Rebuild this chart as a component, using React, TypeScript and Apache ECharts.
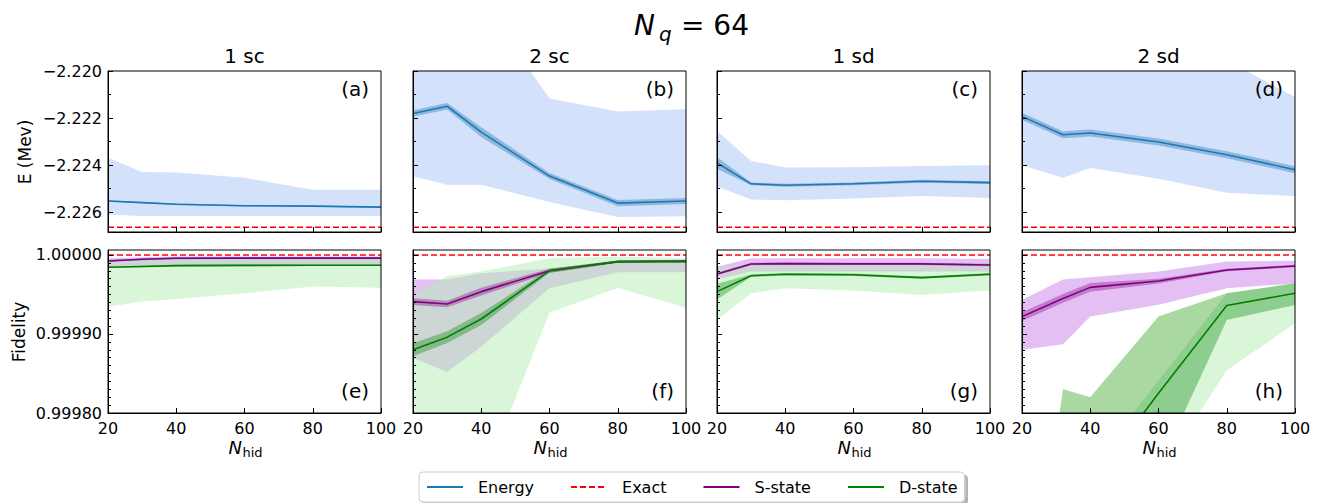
import React, { useEffect, useRef } from 'react';
import * as echarts from 'echarts';

// ---------------- DATA ----------------
const NHID_A = [20, 30, 40, 60, 80, 100];
const NHID_B = [20, 30, 40, 60, 80, 100];
const NHID_C = [20, 30, 40, 60, 80, 100];
const NHID_D = [20, 32, 40, 60, 80, 100];

const COLUMN_TITLES = ['1 sc', '2 sc', '1 sd', '2 sd'];
const PANEL_LETTERS = ['(a)', '(b)', '(c)', '(d)', '(e)', '(f)', '(g)', '(h)'];
const LEGEND_NAMES = ['Energy', 'Exact', 'S-state', 'D-state'];
const X_TICKS = [20, 40, 60, 80, 100];

const E_EXACT = -2.22665;
const F_EXACT = 1.0;
const E_RANGE = [-2.22685, -2.22];
const F_RANGE = [0.9998, 1.0000063];
const E_MAJOR = [-2.226, -2.224, -2.222, -2.22];
const E_MINOR = [-2.226, -2.225, -2.224, -2.223, -2.222, -2.221, -2.22];
const F_MAJOR = [0.9998, 0.9999, 1.0];
const F_MINOR = [
  0.9998, 0.99981, 0.99982, 0.99983, 0.99984, 0.99985, 0.99986, 0.99987, 0.99988, 0.99989,
  0.9999, 0.99991, 0.99992, 0.99993, 0.99994, 0.99995, 0.99996, 0.99997, 0.99998, 0.99999, 1.0,
];

// Energy (a) 1 sc
const EA_MEAN = [-2.22553, -2.2256, -2.22567, -2.22573, -2.22575, -2.22579];
const EA_LO = [-2.22556, -2.22563, -2.2257, -2.22576, -2.22578, -2.22582];
const EA_HI = [-2.2255, -2.22557, -2.22564, -2.2257, -2.22572, -2.22576];
const EA_MIN = [-2.22611, -2.22617, -2.22617, -2.22617, -2.22617, -2.22617];
const EA_MAX = [-2.22369, -2.2243, -2.22432, -2.22454, -2.22505, -2.22505];
// Energy (b) 2 sc
const EB_MEAN = [-2.22181, -2.2215, -2.2226, -2.22447, -2.22562, -2.22553];
const EB_LO = [-2.22195, -2.22164, -2.22281, -2.2246, -2.22575, -2.22566];
const EB_HI = [-2.22167, -2.22136, -2.22239, -2.22434, -2.22549, -2.2254];
const EB_MIN = [-2.22448, -2.22484, -2.22484, -2.22557, -2.22621, -2.22618];
const EB_MAX = [-2.2165, -2.2163, -2.217, -2.22117, -2.22172, -2.22163];
// Energy (c) 1 sd
const EC_MEAN = [-2.22391, -2.2248, -2.22486, -2.2248, -2.22469, -2.22475];
const EC_LO = [-2.22416, -2.22486, -2.22492, -2.22486, -2.22475, -2.22481];
const EC_HI = [-2.22366, -2.22474, -2.2248, -2.22474, -2.22463, -2.22469];
const EC_MIN = [-2.22491, -2.22547, -2.2255, -2.22543, -2.22532, -2.2254];
const EC_MAX = [-2.22255, -2.22383, -2.22411, -2.2241, -2.22404, -2.22401];
// Energy (d) 2 sd
const ED_MEAN = [-2.22193, -2.22271, -2.22264, -2.22302, -2.22356, -2.2242];
const ED_LO = [-2.22208, -2.22286, -2.22279, -2.22317, -2.22371, -2.22435];
const ED_HI = [-2.22178, -2.22256, -2.22249, -2.22287, -2.22341, -2.22405];
const ED_MIN = [-2.22401, -2.22454, -2.22413, -2.22458, -2.22518, -2.22532];
const ED_MAX = [-2.218, -2.218, -2.2182, -2.2188, -2.21955, -2.22111];

// Fidelity (e) 1 sc
const SE_MEAN = [0.9999924, 0.9999945, 0.9999958, 0.999996, 0.999996, 0.999996];
const SE_LO = [0.9999912, 0.9999933, 0.9999946, 0.9999948, 0.9999948, 0.9999948];
const SE_HI = [0.9999936, 0.9999957, 0.999997, 0.9999972, 0.9999972, 0.9999972];
const SE_MIN = [0.999985, 0.999986, 0.999987, 0.999987, 0.999988, 0.999988];
const SE_MAX = [0.999996, 0.999997, 0.999998, 0.999998, 0.999998, 0.999998];
const DE_MEAN = [0.9999844, 0.9999855, 0.9999865, 0.9999868, 0.999987, 0.999987];
const DE_LO = [0.9999834, 0.9999845, 0.9999855, 0.9999858, 0.999986, 0.999986];
const DE_HI = [0.9999854, 0.9999865, 0.9999875, 0.9999878, 0.999988, 0.999988];
const DE_MIN = [0.9999346, 0.999941, 0.9999443, 0.9999515, 0.99996, 0.9999586];
const DE_MAX = [0.999994, 0.999995, 0.999996, 0.999996, 0.999996, 0.999996];
// Fidelity (f) 2 sc
const SF_MEAN = [0.999941, 0.999938, 0.9999536, 0.99998, 0.9999916, 0.9999924];
const SF_LO = [0.9999368, 0.9999338, 0.9999486, 0.9999775, 0.9999901, 0.9999909];
const SF_HI = [0.9999452, 0.9999422, 0.9999586, 0.9999825, 0.9999931, 0.9999939];
const SF_MIN = [0.99987, 0.999852, 0.999884, 0.999958, 0.999978, 0.999978];
const SF_MAX = [0.999969, 0.999969, 0.999977, 0.999983, 0.999991, 0.999991];
const DF_MEAN = [0.99988, 0.999896, 0.999919, 0.99998, 0.9999916, 0.9999916];
const DF_LO = [0.9998718, 0.9998885, 0.9999115, 0.9999775, 0.9999901, 0.9999901];
const DF_HI = [0.9998882, 0.9999035, 0.9999265, 0.9999825, 0.9999931, 0.9999931];
const DF_MIN = [0.9996, 0.99965, 0.99971, 0.999927, 0.9999586, 0.9999333];
const DF_MAX = [0.99995, 0.999973, 0.999979, 0.999996, 0.999998, 0.999996];
// Fidelity (g) 1 sd
const SG_MEAN = [0.999976, 0.9999886, 0.999989, 0.9999888, 0.9999888, 0.9999873];
const SG_LO = [0.9999745, 0.9999871, 0.9999875, 0.9999873, 0.9999873, 0.9999858];
const SG_HI = [0.9999775, 0.9999901, 0.9999905, 0.9999903, 0.9999903, 0.9999888];
const SG_MIN = [0.999969, 0.999979, 0.999979, 0.999979, 0.999979, 0.999979];
const SG_MAX = [0.999985, 0.9999958, 0.9999958, 0.9999958, 0.9999958, 0.999995];
const DG_MEAN = [0.9999536, 0.9999738, 0.9999756, 0.999975, 0.9999713, 0.9999756];
const DG_LO = [0.9999436, 0.9999723, 0.9999741, 0.9999735, 0.9999698, 0.9999741];
const DG_HI = [0.9999636, 0.9999753, 0.9999771, 0.9999765, 0.9999728, 0.9999771];
const DG_MIN = [0.9999177, 0.9999515, 0.9999578, 0.999955, 0.9999494, 0.999955];
const DG_MAX = [0.999983, 0.99999, 0.99999, 0.99999, 0.99999, 0.99999];
// Fidelity (h) 2 sd
const SH_MEAN = [0.999922, 0.999945, 0.999959, 0.999967, 0.999981, 0.999986];
const SH_LO = [0.9999165, 0.9999395, 0.9999535, 0.999964, 0.9999795, 0.9999845];
const SH_HI = [0.9999275, 0.9999505, 0.9999645, 0.99997, 0.9999825, 0.9999875];
const SH_MIN = [0.99988, 0.999887, 0.999922, 0.999937, 0.999958, 0.999964];
const SH_MAX = [0.999943, 0.999969, 0.9999718, 0.999979, 0.9999916, 0.9999928];
const DH_MEAN = [0.9993, 0.9994, 0.99971, 0.999825, 0.999936, 0.9999515];
const DH_LO = [0.9991, 0.9992, 0.9995, 0.99973, 0.9999177, 0.9999367];
const DH_HI = [0.99945, 0.99955, 0.99973, 0.999841, 0.9999515, 0.9999642];
const DH_MID = [0.99946, 0.99983, 0.99982, 0.999922, 0.9999515, 0.9999642];
const DH_MIN = [0.999, 0.9991, 0.9992, 0.99972, 0.999854, 0.9999135];
const DH_MAX = [0.99946, 0.99983, 0.99982, 0.999922, 0.9999515, 0.9999642];

// ---------------- STYLE / LAYOUT ----------------
const FONT = 'DejaVu Sans';
const COL_LEFT = [108, 413, 717, 1022];
const PANEL_W = 273;
const ROW_TOP = [71, 250];
const ROW_H = [161, 163];

const C_BLUE = '#1f77b4';
const C_BLUE_WIDE = 'rgba(100,149,237,0.28)';
const C_BLUE_NARROW = 'rgba(31,119,180,0.38)';
const C_PURPLE = '#800080';
const C_PURPLE_WIDE = 'rgba(148,0,211,0.25)';
const C_PURPLE_NARROW = 'rgba(128,0,128,0.35)';
const C_GREEN = '#008000';
const C_GREEN_WIDE = 'rgba(180,238,180,0.5)';
const C_GREEN_MID = 'rgba(60,150,30,0.3)';
const C_GREEN_NARROW = 'rgba(0,128,0,0.35)';
const C_EXACT = 'red';

type EPanel = { x: number[]; mean: number[]; lo: number[]; hi: number[]; min: number[]; max: number[] };
type FPanel = { x: number[]; s: EPanel; d: EPanel; dMid?: number[] };

const ENERGY: EPanel[] = [
  { x: NHID_A, mean: EA_MEAN, lo: EA_LO, hi: EA_HI, min: EA_MIN, max: EA_MAX },
  { x: NHID_B, mean: EB_MEAN, lo: EB_LO, hi: EB_HI, min: EB_MIN, max: EB_MAX },
  { x: NHID_C, mean: EC_MEAN, lo: EC_LO, hi: EC_HI, min: EC_MIN, max: EC_MAX },
  { x: NHID_D, mean: ED_MEAN, lo: ED_LO, hi: ED_HI, min: ED_MIN, max: ED_MAX },
];

const FIDELITY: FPanel[] = [
  {
    x: NHID_A,
    s: { x: NHID_A, mean: SE_MEAN, lo: SE_LO, hi: SE_HI, min: SE_MIN, max: SE_MAX },
    d: { x: NHID_A, mean: DE_MEAN, lo: DE_LO, hi: DE_HI, min: DE_MIN, max: DE_MAX },
  },
  {
    x: NHID_B,
    s: { x: NHID_B, mean: SF_MEAN, lo: SF_LO, hi: SF_HI, min: SF_MIN, max: SF_MAX },
    d: { x: NHID_B, mean: DF_MEAN, lo: DF_LO, hi: DF_HI, min: DF_MIN, max: DF_MAX },
  },
  {
    x: NHID_C,
    s: { x: NHID_C, mean: SG_MEAN, lo: SG_LO, hi: SG_HI, min: SG_MIN, max: SG_MAX },
    d: { x: NHID_C, mean: DG_MEAN, lo: DG_LO, hi: DG_HI, min: DG_MIN, max: DG_MAX },
  },
  {
    x: NHID_D,
    s: { x: NHID_D, mean: SH_MEAN, lo: SH_LO, hi: SH_HI, min: SH_MIN, max: SH_MAX },
    d: { x: NHID_D, mean: DH_MEAN, lo: DH_LO, hi: DH_HI, min: DH_MIN, max: DH_MAX },
    dMid: DH_MID,
  },
];

function band(gi: number, xs: number[], lo: number[], hi: number[], color: string) {
  return {
    type: 'custom',
    xAxisIndex: gi,
    yAxisIndex: gi * 2,
    silent: true,
    clip: true,
    data: xs.map((x, i) => [x, lo[i], hi[i]]),
    encode: { x: 0, y: [1, 2] },
    renderItem: (params: any, api: any) => {
      if (params.dataIndex !== 0) return null;
      const pts: number[][] = [];
      for (let i = 0; i < xs.length; i++) pts.push(api.coord([xs[i], hi[i]]));
      for (let i = xs.length - 1; i >= 0; i--) pts.push(api.coord([xs[i], lo[i]]));
      const cs = params.coordSys;
      return {
        type: 'polygon',
        shape: { points: pts },
        style: { fill: color, stroke: 'none' },
        clipPath: { type: 'rect', shape: { x: cs.x, y: cs.y, width: cs.width, height: cs.height } },
      };
    },
  };
}

function line(gi: number, name: string, xs: number[], ys: number[], color: string, dashed = false) {
  return {
    type: 'line',
    name,
    xAxisIndex: gi,
    yAxisIndex: gi * 2,
    data: xs.map((x, i) => [x, ys[i]]),
    symbol: 'none',
    showSymbol: false,
    clip: true,
    silent: true,
    lineStyle: { color, width: 1.6, type: dashed ? [6, 3] : 'solid' },
    itemStyle: { color },
  };
}

function fmtE(v: number) {
  const s = Math.abs(v).toFixed(3);
  return v < -1e-12 ? '\u2212' + s : s;
}

function txt(text: string, size: number, align: string, italic = false) {
  return {
    text,
    fontSize: size,
    fontStyle: italic ? 'italic' : 'normal',
    fontFamily: FONT,
    fill: '#000',
    align,
    textAlign: align,
    verticalAlign: 'middle',
    textVerticalAlign: 'middle',
  };
}

function buildOption() {
  const grid: any[] = [];
  const xAxis: any[] = [];
  const yAxis: any[] = [];
  const series: any[] = [];
  const graphic: any[] = [];

  for (let row = 0; row < 2; row++) {
    for (let col = 0; col < 4; col++) {
      const gi = row * 4 + col;
      const left = COL_LEFT[col];
      const top = ROW_TOP[row];
      const h = ROW_H[row];
      grid.push({ left, top, width: PANEL_W, height: h, show: false });
      xAxis.push({
        gridIndex: gi,
        type: 'value',
        min: 20,
        max: 100,
        interval: 20,
        z: 10,
        axisLine: { show: true, lineStyle: { color: '#000', width: 1 } },
        axisTick: { show: true, inside: true, length: 5, lineStyle: { color: '#000', width: 1 } },
        axisLabel: {
          show: row === 1,
          color: '#000',
          fontSize: 16,
          fontFamily: FONT,
          margin: 7,
          customValues: X_TICKS,
        },
        splitLine: { show: false },
      });
      const isE = row === 0;
      const range = isE ? E_RANGE : F_RANGE;
      yAxis.push({
        gridIndex: gi,
        type: 'value',
        position: 'left',
        min: range[0],
        max: range[1],
        z: 10,
        axisLine: { show: true, lineStyle: { color: '#000', width: 1 } },
        axisTick: {
          show: true,
          inside: true,
          length: 5,
          customValues: isE ? E_MAJOR : F_MAJOR,
          lineStyle: { color: '#000', width: 1 },
        },
        axisLabel: {
          show: col === 0,
          color: '#000',
          fontSize: 16,
          fontFamily: FONT,
          margin: 6,
          customValues: isE ? E_MAJOR : F_MAJOR,
          formatter: isE ? (v: number) => fmtE(v) : (v: number) => v.toFixed(5),
        },
        splitLine: { show: false },
      });
      yAxis.push({
        gridIndex: gi,
        type: 'value',
        position: 'left',
        offset: 0,
        min: range[0],
        max: range[1],
        z: 10,
        axisLine: { show: false },
        axisTick: {
          show: true,
          inside: true,
          length: 3,
          customValues: isE ? E_MINOR : F_MINOR,
          lineStyle: { color: '#000', width: 1 },
        },
        axisLabel: { show: false },
        splitLine: { show: false },
      });

      if (isE) {
        const p = ENERGY[col];
        series.push(band(gi, p.x, p.min, p.max, C_BLUE_WIDE));
        series.push(band(gi, p.x, p.lo, p.hi, C_BLUE_NARROW));
        series.push(line(gi, 'Energy', p.x, p.mean, C_BLUE));
        series.push(line(gi, 'Exact', [20, 100], [E_EXACT, E_EXACT], C_EXACT, true));
      } else {
        const p = FIDELITY[col];
        series.push(band(gi, p.x, p.s.min, p.s.max, C_PURPLE_WIDE));
        series.push(band(gi, p.x, p.d.min, p.d.max, C_GREEN_WIDE));
        if (p.dMid) series.push(band(gi, p.x, p.d.hi, p.dMid, C_GREEN_MID));
        series.push(band(gi, p.x, p.s.lo, p.s.hi, C_PURPLE_NARROW));
        series.push(band(gi, p.x, p.d.lo, p.d.hi, C_GREEN_NARROW));
        series.push(line(gi, 'S-state', p.x, p.s.mean, C_PURPLE));
        series.push(line(gi, 'D-state', p.x, p.d.mean, C_GREEN));
        series.push(line(gi, 'Exact', [20, 100], [F_EXACT, F_EXACT], C_EXACT, true));
      }

      graphic.push({
        type: 'rect',
        z: 100,
        silent: true,
        shape: { x: left, y: top, width: PANEL_W, height: h },
        style: { fill: 'none', stroke: '#000', lineWidth: 1 },
      });
      graphic.push({
        type: 'text',
        z: 100,
        x: left + PANEL_W - 12,
        y: row === 0 ? top + 18 : top + h - 22,
        style: txt(PANEL_LETTERS[gi], 20, 'right'),
      });
      if (row === 0) {
        graphic.push({ type: 'text', x: left + PANEL_W / 2, y: 56, style: txt(COLUMN_TITLES[col], 20, 'center') });
      } else {
        const cx = left + PANEL_W / 2;
        graphic.push({ type: 'text', x: cx - 16, y: 447, style: txt('N', 18, 'left', true) });
        graphic.push({ type: 'text', x: cx - 2, y: 452, style: txt('hid', 13, 'left') });
      }
    }
  }

  graphic.push({ type: 'text', x: 634, y: 25, style: txt('N', 28, 'left', true) });
  graphic.push({ type: 'text', x: 659, y: 34, style: txt('q', 20, 'left', true) });
  graphic.push({ type: 'text', x: 681, y: 25, style: txt('= 64', 28, 'left') });
  graphic.push({ type: 'text', x: 25, y: 152, rotation: Math.PI / 2, style: txt('E (Mev)', 17, 'center') });
  graphic.push({ type: 'text', x: 19, y: 332, rotation: Math.PI / 2, style: txt('Fidelity', 17, 'center') });

  return {
    animation: false,
    backgroundColor: '#fff',
    textStyle: { fontFamily: FONT },
    grid,
    xAxis,
    yAxis,
    series,
    graphic,
    legend: {
      data: LEGEND_NAMES.map((name) => ({ name, itemStyle: { opacity: 0 } })),
      left: 419,
      top: 472,
      orient: 'horizontal',
      itemWidth: 36,
      itemHeight: 14,
      itemGap: 36,
      padding: [7, 7],
      borderColor: '#cccccc',
      borderWidth: 1,
      borderRadius: 4,
      backgroundColor: '#fff',
      shadowColor: 'rgba(0,0,0,0.3)',
      shadowOffsetX: 3,
      shadowOffsetY: 3,
      shadowBlur: 0,
      selectedMode: false,
      itemStyle: { opacity: 0 },
      textStyle: { fontSize: 16, fontFamily: FONT, color: '#000', padding: [0, 0, 0, 10] },
    },
  };
}

export default function App() {
  const ref = useRef<HTMLDivElement>(null);
  useEffect(() => {
    document.body.style.margin = '0';
    const chart = echarts.init(ref.current!, null, { renderer: 'svg' });
    chart.setOption(buildOption() as any);
    return () => chart.dispose();
  }, []);
  return <div ref={ref} style={{ width: 1323, height: 503 }} />;
}
